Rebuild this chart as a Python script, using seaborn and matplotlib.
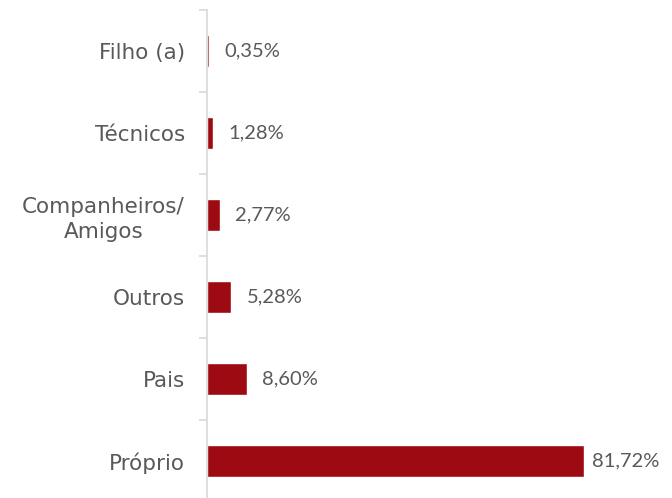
import matplotlib
matplotlib.use("Agg")
import matplotlib.pyplot as plt
import seaborn as sns
import pandas as pd
from matplotlib.ticker import FixedLocator

categories = ["Filho (a)", "Técnicos", "Companheiros/\nAmigos", "Outros", "Pais", "Próprio"]
values = [0.35, 1.28, 2.77, 5.28, 8.60, 81.72]
value_labels = ["0,35%", "1,28%", "2,77%", "5,28%", "8,60%", "81,72%"]

df = pd.DataFrame({"categoria": categories, "valor": values})

sns.set_style("white")
plt.rcParams["font.family"] = ["DejaVu Sans"]

W, H = 672, 498
fig = plt.figure(figsize=(W / 100, H / 100), dpi=100)
ax = fig.add_axes([207 / W, 0, 465 / W, 488 / H])

bar_color = "#9E0A12"
sns.barplot(data=df, y="categoria", x="valor", orient="h", color=bar_color,
            width=0.4, saturation=1, ax=ax)

ax.set_xlim(0, 100.8)
ax.set_ylim(5.45, -0.5)

text_color = "#595959"
axis_color = "#D9D9D9"

for side in ["top", "right", "bottom"]:
    ax.spines[side].set_visible(False)
ax.spines["left"].set_color(axis_color)
ax.spines["left"].set_linewidth(1.2)

ax.set_xticks([])
ax.set_xlabel("")
ax.set_ylabel("")

ax.yaxis.set_minor_locator(FixedLocator([i - 0.5 for i in range(len(categories) + 1)]))
ax.tick_params(axis="y", which="major", length=0, pad=16, labelcolor=text_color,
               labelsize=15.5)
ax.tick_params(axis="y", which="minor", length=6, width=1.2, color=axis_color,
               direction="out", left=True)
for lbl in ax.get_yticklabels():
    lbl.set_multialignment("center")
    lbl.set_linespacing(1.3)

vmax = max(values)
for i, (v, txt) in enumerate(zip(values, value_labels)):
    off = 6 if v == vmax else 11
    ax.annotate(txt, xy=(v, i), xytext=(off, 0), textcoords="offset points",
                ha="left", va="center", fontsize=14.5, color=text_color,
                fontfamily=["Lato"])

fig.savefig("out.png", dpi=100)
